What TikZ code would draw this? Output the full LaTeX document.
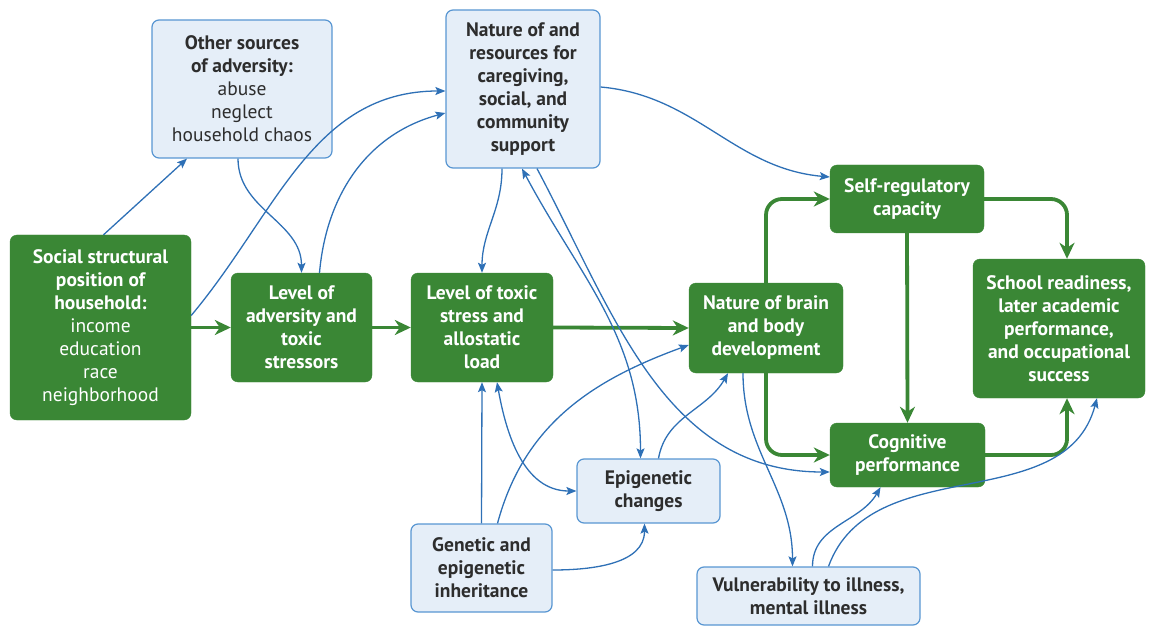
\documentclass[tikz,border=0pt]{standalone}
\usepackage{fontspec}
\setmainfont{PT Sans}
\usepackage{tikz}
\usetikzlibrary{arrows.meta}
\definecolor{boxgreen}{RGB}{58,135,53}
\definecolor{linkblue}{RGB}{46,112,182}
\definecolor{paleblue}{RGB}{229,238,248}
\definecolor{edgeblue}{RGB}{88,150,210}
\definecolor{inktext}{RGB}{45,45,45}

\begin{document}
\begin{tikzpicture}[x=1pt,y=1pt,
		gbox/.style={draw=boxgreen, fill=boxgreen, rounded corners=7pt, text=white, align=center, inner sep=0pt, font=\fontsize{19.5}{23}\selectfont\bfseries},
		lbox/.style={draw=edgeblue, line width=1.2pt, fill=paleblue, rounded corners=7pt, text=inktext, align=center, inner sep=0pt, font=\fontsize{19.5}{23}\selectfont\bfseries},
		garrow/.style={-{Stealth[length=16pt,width=15pt,inset=5pt]}, line width=3.8pt, color=boxgreen, rounded corners=16pt},
		barrow/.style={-{Stealth[length=10pt,width=8pt,inset=2pt]}, line width=1.3pt, color=linkblue},
		bboth/.style={{Stealth[length=10pt,width=8pt,inset=2pt]}-{Stealth[length=10pt,width=8pt,inset=2pt]}, line width=1.3pt, color=linkblue}]
		\useasboundingbox (0,0) rectangle (1150,-628);
		% boxes
		\node[lbox, minimum width=180pt, minimum height=138pt] (other) at (242,-89) {Other sources\\ of adversity:\\ \textmd{abuse}\\ \textmd{neglect}\\ \textmd{household chaos}};
		\node[lbox, minimum width=154pt, minimum height=158pt] (nature) at (523,-89) {Nature of and\\ resources for\\ caregiving,\\ social, and\\ community\\ support};
		\node[gbox, minimum width=181pt, minimum height=185pt] (social) at (100.5,-327.5) {Social structural\\ position of\\ household:\\ \textmd{income}\\ \textmd{education}\\ \textmd{race}\\ \textmd{neighborhood}};
		\node[gbox, minimum width=141pt, minimum height=109pt] (adversity) at (301.5,-327.5) {Level of\\ adversity and\\ toxic\\ stressors};
		\node[gbox, minimum width=142pt, minimum height=109pt] (toxic) at (482,-327.5) {Level of toxic\\ stress and\\ allostatic\\ load};
		\node[gbox, minimum width=154pt, minimum height=90pt] (brain) at (766,-328) {Nature of brain\\ and body\\ development};
		\node[gbox, minimum width=154pt, minimum height=68pt] (selfreg) at (907,-199) {Self-regulatory\\ capacity};
		\node[gbox, minimum width=172pt, minimum height=139pt] (school) at (1059,-328.5) {School readiness,\\ later academic\\ performance,\\ and occupational\\ success};
		\node[gbox, minimum width=155pt, minimum height=64pt] (cognitive) at (907.5,-455) {Cognitive\\ performance};
		\node[lbox, minimum width=143pt, minimum height=64pt] (epi) at (648.5,-491) {Epigenetic\\ changes};
		\node[lbox, minimum width=141pt, minimum height=88pt] (genetic) at (481.5,-568) {Genetic and\\ epigenetic\\ inheritance};
		\node[lbox, minimum width=223pt, minimum height=58pt] (vulner) at (808.5,-596) {Vulnerability to illness,\\ mental illness};
		% main green path
		\draw[garrow] (social.east) -- (adversity.west);
		\draw[garrow] (adversity.east) -- (toxic.west);
		\draw[garrow] (toxic.east) -- (brain.west);
		\draw[garrow] (brain.north) |- (selfreg.west);
		\draw[garrow] (brain.south) |- (cognitive.west);
		\draw[garrow] (selfreg.south) -- (cognitive.north);
		\draw[garrow] (selfreg.east) -| ([xshift=8pt]school.north);
		\draw[garrow] (cognitive.east) -| ([xshift=8pt]school.south);
		% blue links
		\draw[barrow] ([xshift=3pt]social.north) -- ([xshift=-55pt]other.south);
		\draw[barrow] ([xshift=-4pt]other.south) to[out=-90,in=90] (adversity.north);
		\draw[barrow] ([yshift=12pt]social.east) to[out=50,in=180] ([yshift=-2pt]nature.west);
		\draw[barrow] ([xshift=18pt]adversity.north) to[out=85,in=195] ([yshift=-24pt]nature.west);
		\draw[barrow] ([xshift=-21pt]nature.south) to[out=-90,in=90] (toxic.north);
		\draw[barrow] ([yshift=2pt]nature.east) to[out=-5,in=175] ([yshift=22pt]selfreg.west);
		\draw[bboth] ([xshift=-1pt]nature.south) to[out=-62,in=90] ([xshift=-8pt]epi.north);
		\draw[barrow] ([xshift=14pt]nature.south) to[out=-62,in=180] ([yshift=-17pt]cognitive.west);
		\draw[bboth] ([xshift=15pt]toxic.south) to[out=-80,in=180] (epi.west);
		\draw[barrow] (genetic.north) -- (toxic.south);
		\draw[barrow] ([xshift=16pt]genetic.north) to[out=75,in=200] ([yshift=-17pt]brain.west);
		\draw[barrow] ([yshift=-2pt]genetic.east) to[out=0,in=-90] ([xshift=-4pt]epi.south);
		\draw[barrow] ([xshift=10pt]epi.north) to[out=80,in=240] ([xshift=-38pt]brain.south);
		\draw[barrow] ([xshift=-23pt]brain.south) to[out=-90,in=90] ([xshift=-16pt]vulner.north);
		\draw[barrow] ([xshift=4pt]vulner.north) to[out=90,in=240] ([xshift=-27pt]cognitive.south);
		\draw[barrow] ([xshift=20pt]vulner.north) to[out=70,in=-105] ([xshift=38pt]school.south);
	\end{tikzpicture}
\end{document}
